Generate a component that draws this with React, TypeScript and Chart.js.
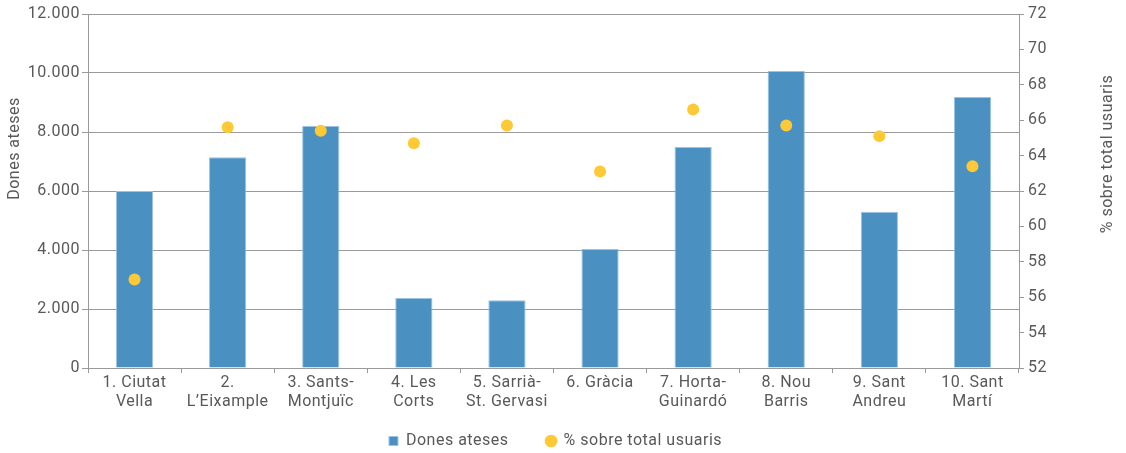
import React, { useEffect, useRef } from "react";
import { Chart, registerables } from "chart.js";

Chart.register(...registerables);

const categories: (string | string[])[] = [
  ["1. Ciutat", "Vella"],
  ["2.", "L\u2019Eixample"],
  ["3. Sants-", "Montjuïc"],
  ["4. Les", "Corts"],
  ["5. Sarrià-", "St. Gervasi"],
  "6. Gràcia",
  ["7. Horta-", "Guinardó"],
  ["8. Nou", "Barris"],
  ["9. Sant", "Andreu"],
  ["10. Sant", "Martí"],
];

const donesAteses = [6000, 7140, 8200, 2370, 2300, 4030, 7490, 10070, 5300, 9190];
const percentUsuaris = [57.0, 65.6, 65.4, 64.7, 65.7, 63.1, 66.6, 65.7, 65.1, 63.4];

const leftTitle = "Dones ateses";
const rightTitle = "% sobre total usuaris";

const FONT = "Roboto, 'Noto Sans', sans-serif";
const TEXT = "#595959";
const GRID = "#9a9a9a";
const SPACING = "0.5px";

const fmt = (v: number) => String(v).replace(/\B(?=(\d{3})+(?!\d))/g, ".");

const setSpacing = (chart: any) => {
  if (chart.ctx && "letterSpacing" in chart.ctx) chart.ctx.letterSpacing = SPACING;
};

const spacingPlugin = {
  id: "spacing",
  beforeUpdate: setSpacing,
  beforeLayout: setSpacing,
  beforeDraw: setSpacing,
  afterLayout(chart: any) {
    // let the two-line category labels extend below the axis box (no clipping)
    const x = chart.scales.x;
    if (x) x.bottom = x.top + 50;
  },
};

const titlesPlugin = {
  id: "axisTitles",
  afterDraw(chart: any) {
    const ctx = chart.ctx;
    const draw = (text: string, x: number, y: number) => {
      ctx.save();
      ctx.fillStyle = TEXT;
      ctx.font = `16px ${FONT}`;
      ctx.textAlign = "center";
      ctx.textBaseline = "alphabetic";
      ctx.translate(x, y);
      ctx.rotate(-Math.PI / 2);
      ctx.fillText(text, 0, 0);
      ctx.restore();
    };
    draw(leftTitle, 18.5, 148.5);
    draw(rightTitle, 1111.5, 154);
  },
};

export default function App() {
  const ref = useRef<HTMLCanvasElement>(null);
  useEffect(() => {
    if (!ref.current) return;
    const chart = new Chart(ref.current, {
      type: "bar",
      data: {
        labels: categories,
        datasets: [
          {
            type: "bar",
            label: "Dones ateses",
            data: donesAteses,
            backgroundColor: "#4a91c2",
            borderColor: "#9cc3e2",
            borderWidth: 1,
            barPercentage: 0.8,
            categoryPercentage: 0.5,
            yAxisID: "y",
            order: 1,
            pointStyle: "rect",
          } as any,
          {
            type: "line",
            label: "% sobre total usuaris",
            data: percentUsuaris,
            showLine: false,
            backgroundColor: "#fdc935",
            borderColor: "#fdc935",
            pointRadius: 6,
            pointHoverRadius: 6,
            pointBorderWidth: 0,
            yAxisID: "y1",
            order: 0,
            pointStyle: "circle",
          } as any,
        ],
      },
      options: {
        animation: false,
        responsive: true,
        maintainAspectRatio: false,
        layout: { padding: { top: 14, bottom: -6, left: 0, right: 15 } },
        plugins: {
          tooltip: { enabled: false },
          legend: {
            position: "bottom",
            labels: {
              usePointStyle: true,
              boxWidth: 9,
              boxHeight: 9,
              padding: 38,
              color: TEXT,
              font: { family: FONT, size: 16 },
              sort: (a: any, b: any) => a.datasetIndex - b.datasetIndex,
            },
          },
        },
        scales: {
          x: {
            afterFit: (s: any) => { s.height = 27; },
            grid: {
              display: true,
              drawOnChartArea: false,
              drawTicks: true,
              tickLength: 5,
              offset: true,
              color: GRID,
            },
            border: { display: true, color: GRID },
            ticks: {
              color: TEXT,
              font: { family: FONT, size: 16 },
              padding: 0,
              maxRotation: 0,
              autoSkip: false,
            },
          },
          y: {
            position: "left",
            min: 0,
            max: 12000,
            afterFit: (s: any) => { s.width = 88; },
            grid: { color: GRID, tickLength: 6, drawTicks: true },
            border: { display: true, color: GRID },
            ticks: {
              stepSize: 2000,
              color: TEXT,
              font: { family: FONT, size: 16 },
              padding: 2,
              callback: (v: any) => fmt(Number(v)),
            },
          },
          y1: {
            position: "right",
            min: 52,
            max: 72,
            afterFit: (s: any) => { s.width = 92; },
            grid: { drawOnChartArea: false, drawTicks: true, tickLength: 5, color: GRID },
            border: { display: true, color: GRID },
            ticks: {
              stepSize: 2,
              color: TEXT,
              font: { family: FONT, size: 16 },
              padding: 4,
            },
          },
        },
      },
      plugins: [spacingPlugin, titlesPlugin],
    });
    return () => chart.destroy();
  }, []);
  return (
    <div style={{ position: "absolute", left: 0, top: 0, width: 1126, height: 453 }}>
      <canvas ref={ref} />
    </div>
  );
}
